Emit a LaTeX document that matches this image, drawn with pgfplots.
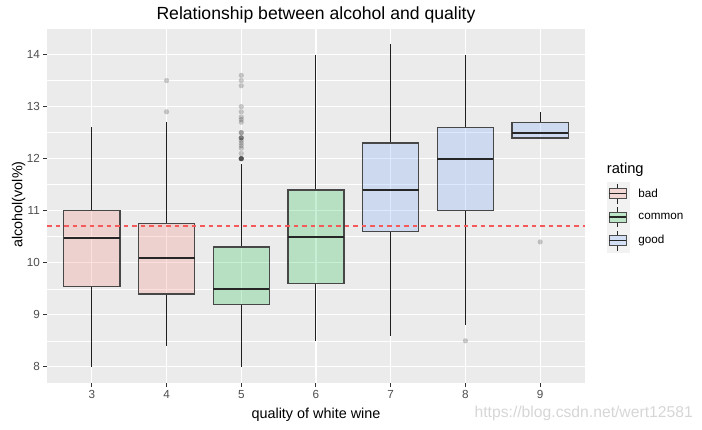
\documentclass[border=0pt]{standalone}
\usepackage{fontspec}
\setmainfont{Liberation Sans}
\usepackage{pgfplots}
\pgfplotsset{compat=1.18}
\usepgfplotslibrary{statistics}
\definecolor{badc}{HTML}{F8766D}
\definecolor{comc}{HTML}{00BA38}
\definecolor{goodc}{HTML}{619CFF}
\definecolor{panelbg}{HTML}{EBEBEB}
\definecolor{tickc}{HTML}{4D4D4D}
\definecolor{tickmark}{HTML}{333333}
\definecolor{keybg}{HTML}{F2F2F2}
\definecolor{wm}{HTML}{D6D6D6}
\definecolor{hline}{HTML}{F55A5A}
\pgfplotsset{ggkey/.style={legend image code/.code={
  \fill[keybg] (0pt,-11.5pt) rectangle (22pt,11.5pt);
  \draw[black!85, line width=0.9pt] (11pt,-10pt) -- (11pt,10pt);
  \filldraw[fill=#1!22!keybg, draw=black!70, line width=1.2pt] (2.5pt,-5pt) rectangle (19.5pt,5pt);
  \draw[black!85, line width=1.3pt] (2.5pt,0pt) -- (19.5pt,0pt);
}}}
\pgfplotsset{outl/.style={mark=*, mark size=2.6pt,
  mark options={solid, fill=black, draw=black, fill opacity=0.2, draw opacity=0, line width=0pt}}}
\begin{document}
\begin{tikzpicture}[x=1pt,y=1pt]
\useasboundingbox (0,0) rectangle (702,429);
\begin{axis}[
  at={(47pt,46pt)}, anchor=south west,
  scale only axis, width=538pt, height=355pt,
  xmin=0.4, xmax=7.6, ymin=7.69, ymax=14.51,
  xtick={1,...,7}, xticklabels={3,4,5,6,7,8,9},
  ytick={8,...,14}, minor ytick={8.5,9.5,...,14.5},
  grid=both,
  major grid style={white, line width=1.07pt},
  minor grid style={white, line width=0.53pt},
  axis background/.style={fill=panelbg},
  axis line style={draw=none},
  tick align=outside, tick pos=left,
  major tick length=3.7pt, minor tick length=0pt,
  tick style={tickmark, line width=1pt},
  ticklabel style={font=\fontsize{11.7}{12}\selectfont, text=tickc},
  /pgf/number format/assume math mode=true,
  boxplot/draw direction=y,
  boxplot/box extend=0.75, boxplot/whisker extend=0,
  boxplot/every box/.style={draw=black!72, line width=1.35pt},
  boxplot/every whisker/.style={draw=black!88, line width=1pt},
  boxplot/every median/.style={draw=black!85, line width=2.1pt},
  legend style={at={(1.0403,0.5662)}, anchor=north west, draw=none, fill=none,
    inner sep=0pt, outer sep=0pt, row sep=0pt,
    font=\fontsize{11.7}{12}\selectfont, nodes={inner sep=0pt},
    /tikz/every odd column/.append style={column sep=9.4pt}},
  legend cell align=left,
]
\addlegendimage{ggkey=badc}\addlegendentry{bad}
\addlegendimage{ggkey=comc}\addlegendentry{common}
\addlegendimage{ggkey=goodc}\addlegendentry{good}

% quality 3
\addplot[forget plot, boxplot prepared={draw position=1, lower whisker=8.0, lower quartile=9.55, median=10.47, upper quartile=11.0, upper whisker=12.6},
  boxplot/every box/.append style={fill=badc, fill opacity=0.22}] coordinates {};
% quality 4
\addplot[forget plot, boxplot prepared={draw position=2, lower whisker=8.4, lower quartile=9.4, median=10.1, upper quartile=10.75, upper whisker=12.7},
  boxplot/every box/.append style={fill=badc, fill opacity=0.22}, outl]
  table[row sep=\\, y index=0] {data\\13.5\\12.9\\};
% quality 5
\addplot[forget plot, boxplot prepared={draw position=3, lower whisker=8.0, lower quartile=9.2, median=9.5, upper quartile=10.3, upper whisker=11.9},
  boxplot/every box/.append style={fill=comc, fill opacity=0.22}, outl]
  table[row sep=\\, y index=0] {data\\13.6\\13.5\\13.4\\13.0\\12.9\\12.8\\12.75\\12.7\\12.5\\12.5\\12.4\\12.4\\12.4\\12.35\\12.3\\12.25\\12.2\\12.1\\12.0\\12.0\\12.0\\12.0\\12.0\\};
% quality 6
\addplot[forget plot, boxplot prepared={draw position=4, lower whisker=8.5, lower quartile=9.6, median=10.5, upper quartile=11.4, upper whisker=14.0},
  boxplot/every box/.append style={fill=comc, fill opacity=0.22}] coordinates {};
% quality 7
\addplot[forget plot, boxplot prepared={draw position=5, lower whisker=8.6, lower quartile=10.6, median=11.4, upper quartile=12.3, upper whisker=14.2},
  boxplot/every box/.append style={fill=goodc, fill opacity=0.22}] coordinates {};
% quality 8
\addplot[forget plot, boxplot prepared={draw position=6, lower whisker=8.8, lower quartile=11.0, median=12.0, upper quartile=12.6, upper whisker=14.0},
  boxplot/every box/.append style={fill=goodc, fill opacity=0.22}, outl]
  table[row sep=\\, y index=0] {data\\8.5\\};
% quality 9
\addplot[forget plot, boxplot prepared={draw position=7, lower whisker=12.4, lower quartile=12.4, median=12.5, upper quartile=12.7, upper whisker=12.9},
  boxplot/every box/.append style={fill=goodc, fill opacity=0.22}, outl]
  table[row sep=\\, y index=0] {data\\10.4\\};
% mean line
\addplot[forget plot, hline, dash pattern=on 4.5pt off 4pt, line width=2pt] coordinates {(0.4,10.7) (7.6,10.7)};
\end{axis}
\node[anchor=base] at (316,409) {\fontsize{17.6}{20}\selectfont Relationship between alcohol and quality};
\node[anchor=base] at (316,11) {\fontsize{14.4}{16}\selectfont quality of white wine};
\node[anchor=base, rotate=90] at (22.3,224.5) {\fontsize{14.4}{16}\selectfont alcohol(vol\%)};
\node[anchor=base west, inner sep=0pt] at (606.7,255.7) {\fontsize{14.7}{16}\selectfont rating};
\node[anchor=base east, inner sep=0pt, text=wm] at (693,12) {\fontsize{15.7}{18}\selectfont https://blog.csdn.net/wert12581};
\end{tikzpicture}
\end{document}
